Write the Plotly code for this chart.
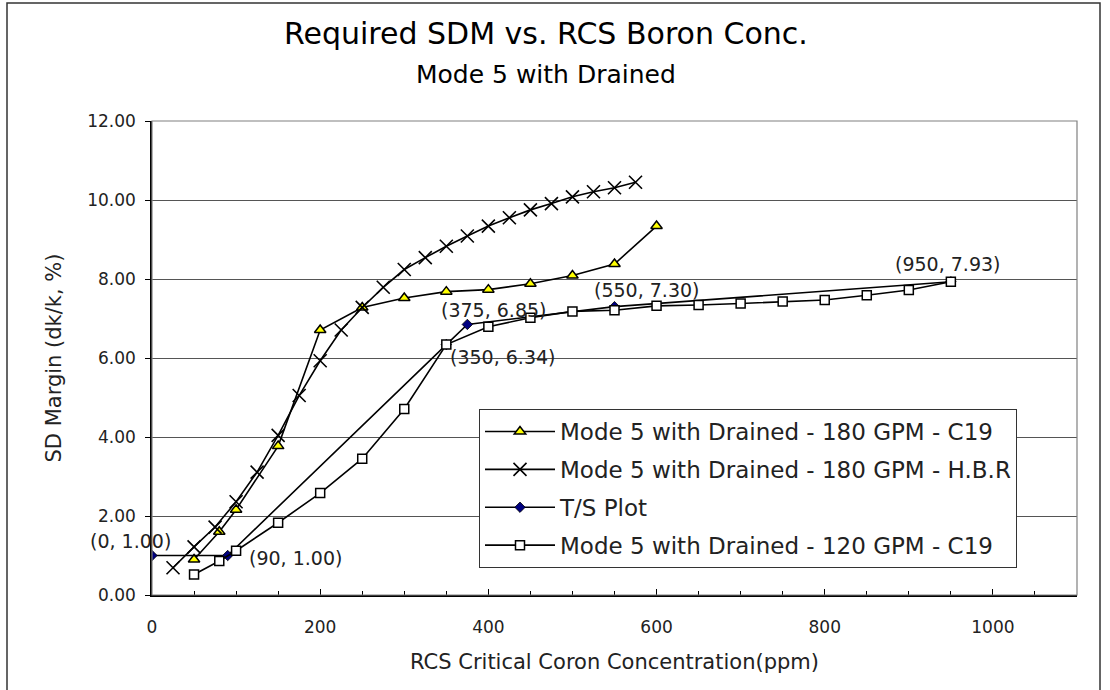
import plotly.graph_objects as go

# ---------------- data ----------------
tri_name = "Mode 5 with Drained - 180 GPM - C19"
tri_x = [50, 80, 100, 150, 200, 250, 300, 350, 400, 450, 500, 550, 600]
tri_y = [0.90, 1.60, 2.16, 3.77, 6.71, 7.28, 7.52, 7.68, 7.73, 7.88, 8.09, 8.38, 9.34]

hbr_name = "Mode 5 with Drained - 180 GPM - H.B.R"
hbr_x = [25, 50, 75, 100, 125, 150, 175, 200, 225, 250, 275, 300, 325, 350,
         375, 400, 425, 450, 475, 500, 525, 550, 575]
hbr_y = [0.69, 1.22, 1.72, 2.36, 3.11, 4.04, 5.05, 5.93, 6.71, 7.28, 7.79, 8.24,
         8.54, 8.83, 9.09, 9.34, 9.55, 9.75, 9.91, 10.08, 10.21, 10.31, 10.45]

ts_name = "T/S Plot"
ts_x = [0, 90, 350, 375, 550, 950]
ts_y = [1.00, 1.00, 6.34, 6.85, 7.30, 7.93]
ts_labels = ["(0, 1.00)", "(90, 1.00)", "(350, 6.34)", "(375, 6.85)", "(550, 7.30)", "(950, 7.93)"]

sq_name = "Mode 5 with Drained - 120 GPM - C19"
sq_x = [50, 80, 100, 150, 200, 250, 300, 350, 400, 450, 500, 550, 600, 650,
        700, 750, 800, 850, 900, 950]
sq_y = [0.52, 0.86, 1.12, 1.83, 2.58, 3.45, 4.71, 6.34, 6.79, 7.02, 7.18, 7.21,
        7.32, 7.34, 7.38, 7.43, 7.47, 7.59, 7.72, 7.93]

x_ticks = [0, 200, 400, 600, 800, 1000]
y_ticks = [0, 2, 4, 6, 8, 10, 12]

title_1 = "Required SDM vs. RCS Boron Conc."
title_2 = "Mode 5 with Drained"
x_title = "RCS Critical Coron Concentration(ppm)"
y_title = "SD Margin (dk/k, %)"

# label offsets (pixels) for T/S labels
lab_dx = [-22, 19, 56, 26, 32, -3]
lab_dy = [15, -2, -12, 14, 17, 18]
lab_anchor = ["center", "left", "center", "center", "center", "center"]

FONT = "DejaVu Sans"
W = 925.0   # plot width in px
H = 474.0   # plot height in px
L, B = 152, 595

def px(xp):
    return (xp - L) / W

def py(yp):
    return (B - yp) / H

fig = go.Figure()

fig.add_trace(go.Scatter(
    x=tri_x, y=tri_y, name=tri_name, mode="lines+markers", legendgroup="a",
    line=dict(color="black", width=1.6),
    marker=dict(symbol="triangle-up", size=10, color="#FFFF00",
                line=dict(color="black", width=1.5))))

fig.add_trace(go.Scatter(
    x=hbr_x, y=hbr_y, name=hbr_name, mode="lines+markers", legendgroup="b",
    line=dict(color="black", width=1.6),
    marker=dict(symbol="x-thin", size=13, color="black",
                line=dict(color="black", width=1.6))))

fig.add_trace(go.Scatter(
    x=ts_x, y=ts_y, name=ts_name, mode="lines+markers", legendgroup="c",
    line=dict(color="black", width=1.6),
    marker=dict(symbol="diamond", size=8, color="#000080",
                line=dict(color="black", width=0.8))))

fig.add_trace(go.Scatter(
    x=sq_x, y=sq_y, name=sq_name, mode="lines+markers", legendgroup="d",
    line=dict(color="black", width=1.6),
    marker=dict(symbol="square", size=9, color="white",
                line=dict(color="black", width=1.5))))

for x, y, t, dx, dy, an in zip(ts_x, ts_y, ts_labels, lab_dx, lab_dy, lab_anchor):
    fig.add_annotation(x=x, y=y, text=t, showarrow=False, xshift=dx, yshift=dy,
                       xanchor=an, yanchor="middle",
                       font=dict(family=FONT, size=19, color="#222222"))

fig.add_annotation(x=px(546), y=py(33), xref="paper", yref="paper",
                   text=title_1, showarrow=False, xanchor="center", yanchor="middle",
                   font=dict(family=FONT, size=30, color="black"))
fig.add_annotation(x=px(546), y=py(74), xref="paper", yref="paper",
                   text=title_2, showarrow=False, xanchor="center", yanchor="middle",
                   font=dict(family=FONT, size=25, color="black"))

fig.update_layout(
    width=1110, height=690,
    margin=dict(l=152, r=33, t=121, b=95),
    paper_bgcolor="white", plot_bgcolor="white",
    font=dict(family=FONT, size=17, color="#222222"),
    showlegend=True,
    legend=dict(x=px(479), y=py(409), xanchor="left", yanchor="top",
                bgcolor="white", bordercolor="#333333", borderwidth=1,
                font=dict(family=FONT, size=23, color="#222222"),
                tracegroupgap=5, itemwidth=70),
    xaxis=dict(range=[0, 1100], tickvals=x_ticks, ticks="inside", ticklen=6,
               tickcolor="black", showline=True, linecolor="black", linewidth=1.5,
               showgrid=False, zeroline=False, ticklabelstandoff=16,
               minor=dict(dtick=50, ticks="inside", ticklen=4, tickcolor="black"),
               title=dict(text=x_title, font=dict(family=FONT, size=21), standoff=18),
               tickfont=dict(family=FONT, size=17)),
    yaxis=dict(range=[0, 12], tickvals=y_ticks, tickformat=".2f", ticks="outside",
               ticklen=5, tickcolor="black", showline=True, linecolor="black",
               linewidth=1.5, showgrid=True, gridcolor="#555555", gridwidth=1,
               zeroline=False, ticklabelstandoff=6,
               title=dict(text=y_title, font=dict(family=FONT, size=21), standoff=20),
               tickfont=dict(family=FONT, size=17)),
)

# plot-area border (gray) and chart-area frame (black)
fig.add_shape(type="rect", xref="paper", yref="paper", x0=0, x1=1, y0=0, y1=1,
              line=dict(color="#808080", width=1.2), layer="above")
fig.add_shape(type="rect", xref="paper", yref="paper",
              x0=px(7), x1=px(1100), y0=py(700), y1=py(3),
              line=dict(color="#333333", width=1.5), layer="below")

fig.write_html("out.html")
